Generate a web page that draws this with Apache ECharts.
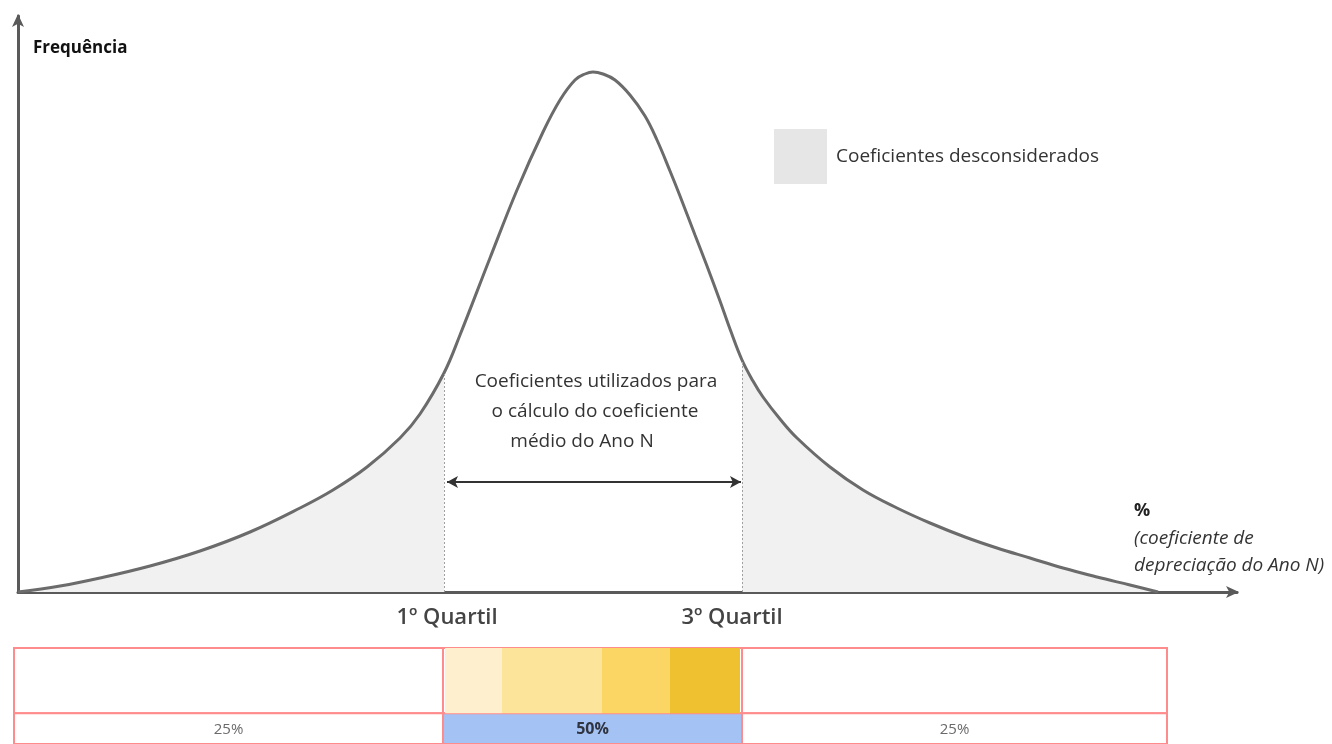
<!DOCTYPE html>
<html>
<head>
<meta charset="utf-8">
<script src="https://cdn.jsdelivr.net/npm/echarts@6/dist/echarts.min.js"></script>
<style>
html,body{margin:0;padding:0;background:#fff;}
#chart{width:1332px;height:744px;}
</style>
</head>
<body>
<div id="chart"></div>
<script>
// ---- data (arbitrary units) ----
const curveX = [0, 42, 82, 132, 182, 232, 282, 315, 349, 382, 402, 426, 442, 472, 499, 525, 542, 557, 567, 575, 585, 597, 612, 627, 639, 652, 662, 677, 689, 702, 712, 724, 735, 745, 762, 779, 812, 845, 879, 912, 947, 979, 1012, 1045, 1079, 1112, 1140];
const curveY = [0, 6, 14, 26, 41, 60, 84, 102, 125, 154, 178, 219, 257, 334, 402, 460, 492, 512, 518, 520, 518, 512, 497, 476, 452, 421, 396, 357, 326, 291, 263, 232, 211, 195, 173, 154, 125, 102, 84, 69, 55, 44, 34, 24, 15, 7, 0];
const quartile1 = 426;
const quartile3 = 724;
const rangeArrowY = 110;
const columnEdges = [-4, 425, 724, 1149];
const shareLabels = ['25%', '50%', '25%'];
const bandEdges = [427, 484, 584, 652, 722];
const seriesNames = ['Coeficientes desconsiderados'];
const axisTitles = ['Frequência', '%', '(coeficiente de', 'depreciação do Ano N)'];
const quartileLabels = ['1º Quartil', '3º Quartil'];
const noteLines = ['Coeficientes utilizados para', 'o cálculo do coeficiente', 'médio do Ano N'];

// ---- styles ----
const FONT = '"Open Sans", "Noto Sans", sans-serif';
const bandColors = ['#fef0cf', '#fde49b', '#fbd664', '#efc030'];

const curve = curveX.map((x, i) => [x, curveY[i]]);
const leftTail = curve.filter(p => p[0] <= quartile1);
const rightTail = curve.filter(p => p[0] >= quartile3);
const qIdx1 = curveX.indexOf(quartile1);
const qIdx3 = curveX.indexOf(quartile3);

const tableCells = [];
for (let i = 0; i < 3; i++) {
  tableCells.push({ kind: 'top', x0: columnEdges[i], x1: columnEdges[i + 1], i: i });
}
for (let b = 0; b < bandEdges.length - 1; b++) {
  tableCells.push({ kind: 'band', x0: bandEdges[b], x1: bandEdges[b + 1], i: b });
}
for (let i = 0; i < 3; i++) {
  tableCells.push({ kind: 'bottom', x0: columnEdges[i], x1: columnEdges[i + 1], i: i, label: shareLabels[i] });
}

const chart = echarts.init(document.getElementById('chart'), null, { renderer: 'canvas' });

const SMOOTH = 0.4;
const tailStyle = {
  type: 'line', name: seriesNames[0], smooth: SMOOTH, showSymbol: false, silent: true,
  lineStyle: { width: 0, color: '#e6e6e6' }, itemStyle: { color: '#e6e6e6' },
  areaStyle: { color: '#f1f1f1', opacity: 1 }, z: 1
};

function txt(x, y, s, extra) {
  return { type: 'text', x: x, y: y, style: Object.assign({
    text: s, verticalAlign: 'middle', fontFamily: FONT, fontSize: 19, fill: '#333333' }, extra || {}) };
}

chart.setOption({
  animation: false,
  backgroundColor: '#ffffff',
  grid: [
    { left: 18, top: 16, width: 1219, height: 576 },
    { left: 18, top: 648, width: 1219, height: 100 }
  ],
  xAxis: [
    { type: 'value', gridIndex: 0, min: 0, max: 1219,
      axisLine: { show: true, onZero: false, symbol: ['none', 'arrow'], symbolSize: [9, 13], symbolOffset: [0, 2],
        lineStyle: { color: '#5a5a5a', width: 3 } },
      axisTick: { show: false }, axisLabel: { show: false }, splitLine: { show: false } },
    { type: 'value', gridIndex: 1, min: 0, max: 1219, show: false }
  ],
  yAxis: [
    { type: 'value', gridIndex: 0, min: 0, max: 576,
      axisLine: { show: true, onZero: false, symbol: ['none', 'arrow'], symbolSize: [9, 13], symbolOffset: [0, 2],
        lineStyle: { color: '#5a5a5a', width: 3 } },
      axisTick: { show: false }, axisLabel: { show: false }, splitLine: { show: false } },
    { type: 'value', gridIndex: 1, min: 0, max: 100, show: false }
  ],
  legend: {
    left: 774, top: 129, padding: 0, itemWidth: 53, itemHeight: 55,
    selectedMode: false,
    data: [{ name: seriesNames[0], icon: 'rect', itemStyle: { color: '#e6e6e6' } }],
    textStyle: { fontFamily: FONT, fontSize: 19, color: '#333333', padding: [3, 0, 0, 4] }
  },
  series: [
    Object.assign({}, tailStyle, { data: leftTail }),
    Object.assign({}, tailStyle, { data: rightTail }),
    {
      type: 'line', name: 'curva', smooth: SMOOTH, showSymbol: false, silent: true,
      data: curve, z: 3,
      lineStyle: { color: '#6b6b6b', width: 3 },
      markLine: {
        silent: true, symbol: ['none', 'none'], label: { show: false },
        lineStyle: { color: '#a0a0a0', width: 1, type: [2, 2] },
        data: [
          [{ coord: [quartile1, 0] }, { coord: [quartile1, curveY[qIdx1]] }],
          [{ coord: [quartile3, 0] }, { coord: [quartile3, curveY[qIdx3]] }],
          [{ coord: [quartile1 + 3, rangeArrowY], symbol: 'arrow', symbolSize: [9, 11],
             lineStyle: { color: '#333333', width: 2, type: 'solid' } },
           { coord: [quartile3 - 1, rangeArrowY], symbol: 'arrow', symbolSize: [9, 11] }]
        ]
      }
    },
    {
      type: 'custom', name: 'tabela', xAxisIndex: 1, yAxisIndex: 1, clip: false, silent: true,
      data: tableCells.map((c, k) => [c.x0, c.x1, k]),
      renderItem: function (params, api) {
        const c = tableCells[params.dataIndex];
        const yTop = c.kind === 'bottom' ? 32 : 100;
        const yBot = c.kind === 'bottom' ? 0 : 32;
        const p0 = api.coord([c.x0, yTop]);
        const p1 = api.coord([c.x1, yBot]);
        const shape = { x: p0[0], y: p0[1], width: p1[0] - p0[0], height: p1[1] - p0[1] };
        if (c.kind === 'band') {
          return { type: 'rect', shape: shape, style: { fill: bandColors[c.i], stroke: null }, z2: 5 };
        }
        if (c.kind === 'top') {
          return { type: 'rect', shape: shape, style: { fill: '#ffffff', stroke: '#ff8c8c', lineWidth: 2 }, z2: 1 };
        }
        const mid = c.i === 1;
        return {
          type: 'group', children: [
            { type: 'rect', shape: shape, style: { fill: mid ? '#a4c2f4' : '#ffffff', stroke: '#ff8c8c', lineWidth: 2 }, z2: 1 },
            { type: 'text', style: {
                text: c.label, x: (p0[0] + p1[0]) / 2, y: p0[1] + 16, align: 'center', verticalAlign: 'middle',
                fontFamily: FONT, fontSize: mid ? 16 : 15, fontWeight: mid ? 'bold' : 'normal',
                fill: mid ? '#2f3440' : '#6a6a6a' }, z2: 6 }
          ]
        };
      }
    }
  ],
  graphic: [
    txt(33, 48, axisTitles[0], { fontSize: 17, fontWeight: 'bold', fill: '#111111' }),
    txt(1134, 511, axisTitles[1], { fontSize: 18, fontWeight: 'bold', fill: '#222222' }),
    txt(1134, 539, axisTitles[2], { fontStyle: 'italic' }),
    txt(1134, 566, axisTitles[3], { fontStyle: 'italic' }),
    txt(447, 618, quartileLabels[0], { align: 'center', fontSize: 22, fontWeight: 600, fill: '#444444' }),
    txt(732, 618, quartileLabels[1], { align: 'center', fontSize: 22, fontWeight: 600, fill: '#444444' }),
    txt(596, 382, noteLines[0], { align: 'center' }),
    txt(595, 412, noteLines[1], { align: 'center' }),
    txt(582, 442, noteLines[2], { align: 'center' })
  ]
});
</script>
</body>
</html>
